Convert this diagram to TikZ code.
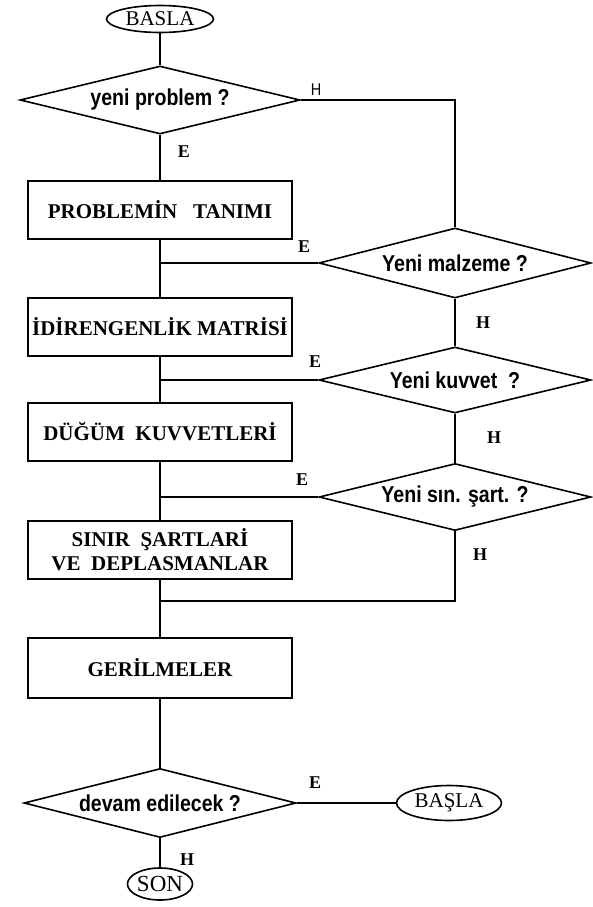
\documentclass[tikz,border=0pt]{standalone}
\usepackage{fontspec}
\setmainfont{Liberation Serif}
\newfontfamily\qfont[FakeStretch=0.85]{Liberation Sans}
\usetikzlibrary{shapes.geometric}

\begin{document}
\begin{tikzpicture}[
            x = 1pt, y = -1pt, % one unit per pixel, y going down
            auto,
            line width = 1.6pt % line style
        ]

        \tikzstyle{every node}=[
        inner sep = 0pt,
        line width = 1.6pt
        ]
        \tikzstyle{terminal}=[draw = black, ellipse, font = \fontsize{21}{23}\selectfont]
        \tikzstyle{box}=[draw = black, rectangle, minimum width = 264pt, minimum height = 58pt,
        align = center, font = \bfseries\fontsize{21}{24}\selectfont]
        \tikzstyle{decision}=[draw = black, diamond, aspect = 4, minimum width = 272pt,
        minimum height = 68pt, font = \qfont\bfseries\fontsize{23}{25}\selectfont]
        \tikzstyle{answer}=[font = \bfseries\fontsize{18}{20}\selectfont]

        \useasboundingbox (0,0) rectangle (593,907);

        % main column
        \node (basla) [terminal, minimum width = 107pt, minimum height = 27pt] at (160,19) {BASLA};
        \node (yeniprob) [decision, minimum width = 280pt, node distance = 81pt, below of = basla] {yeni problem ?};
        \node (tanim) [box, node distance = 110pt, below of = yeniprob] {PROBLEM\.IN\ \ \ TANIMI};
        \node (matris) [box, node distance = 117pt, below of = tanim] {\.ID\.IRENGENL\.IK MATR\.IS\.I};
        \node (kuvvet) [box, node distance = 105pt, below of = matris] {DÜĞÜM\ \ KUVVETLER\.I};
        \node (deplas) [box, node distance = 118pt, below of = kuvvet] {SINIR\ \ ŞARTLAR\.I\\VE\ \ DEPLASMANLAR};
        \node (gerilme) [box, minimum height = 60pt, node distance = 118pt, below of = deplas] {GER\.ILMELER};
        \node (devam) [decision, minimum height = 69pt, node distance = 135pt, below of = gerilme] {devam edilecek ?};
        \node (son) [terminal, minimum width = 62pt, minimum height = 32pt, node distance = 81pt, below of = devam,
        font = \fontsize{23}{25}\selectfont] {SON};
        \node (basla2) [terminal, minimum width = 105pt, minimum height = 35pt, node distance = 289pt, right of = devam] {BAŞLA};

        % right column
        \node (yenimalz) [decision, minimum height = 70pt] at (455,263) {Yeni malzeme ?};
        \node (yenikuv) [decision, minimum height = 66pt, node distance = 117pt, below of = yenimalz] {Yeni kuvvet\ \ ?};
        \node (yenisin) [decision, minimum height = 67pt, node distance = 117pt, below of = yenikuv] {Yeni sın. şart. ?};
        \coordinate (donus) at (160,601);

        % answers
        \node (h0) [font = \qfont\fontsize{17}{19}\selectfont] at (316,90) {H};
        \node (e0) [answer] at (184,152) {E};
        \node (e1) [answer] at (304,247) {E};
        \node (h1) [answer] at (483,323) {H};
        \node (e2) [answer] at (315,362) {E};
        \node (h2) [answer] at (494,438) {H};
        \node (e3) [answer] at (302,480) {E};
        \node (h3) [answer] at (480,555) {H};
        \node (e4) [answer] at (315,783) {E};
        \node (h4) [answer] at (187,860) {H};

        \path (basla) edge (yeniprob);
        \path (yeniprob) edge (tanim);
        \path (tanim) edge (matris);
        \path (matris) edge (kuvvet);
        \path (kuvvet) edge (deplas);
        \path (deplas) edge (gerilme);
        \path (gerilme) edge (devam);
        \path (devam) edge (son);
        \path (devam.east) edge (basla2.west);

        \draw (yeniprob.east) -| (yenimalz.north);
        \path (yenimalz) edge (yenikuv);
        \path (yenikuv) edge (yenisin);
        \draw (yenimalz.west) -- (yenimalz.west -| tanim);
        \draw (yenikuv.west) -- (yenikuv.west -| matris);
        \draw (yenisin.west) -- (yenisin.west -| kuvvet);
        \draw (yenisin.south) |- (donus);
    \end{tikzpicture}
\end{document}
